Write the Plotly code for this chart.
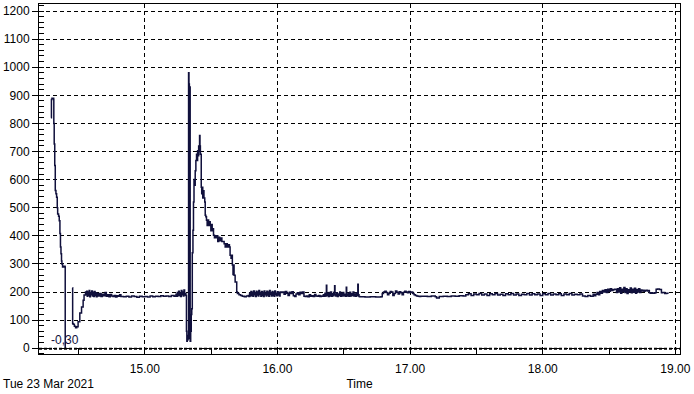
import plotly.graph_objects as go

# ---- data: (time in decimal hours, value) ----
ramp = [(14.292, 820), (14.296, 885), (14.300, 890), (14.313, 885), (14.314, 800), (14.317, 727),
        (14.321, 650), (14.325, 561), (14.330, 550), (14.335, 537), (14.340, 500), (14.343, 478),
        (14.350, 470), (14.355, 454), (14.360, 408), (14.364, 360), (14.368, 336), (14.372, 310),
        (14.375, 300), (14.380, 289), (14.390, 292), (14.399, 289), (14.400, -0.3)]
recovery = [(14.455, 215), (14.456, 88), (14.460, 85), (14.469, 78), (14.478, 73), (14.487, 76),
            (14.497, 94), (14.510, 125), (14.523, 147), (14.535, 171), (14.542, 189), (14.553, 200)]
noise_a = [(14.558, 190), (14.562, 203), (14.566, 185), (14.570, 200), (14.575, 188), (14.580, 205),
           (14.585, 183), (14.590, 198), (14.595, 190), (14.600, 204), (14.605, 186), (14.610, 199),
           (14.615, 184), (14.620, 202), (14.625, 188), (14.630, 197), (14.635, 183), (14.640, 195),
           (14.650, 186), (14.660, 195), (14.670, 184), (14.680, 192), (14.690, 187), (14.700, 198),
           (14.710, 185), (14.720, 190), (14.730, 183), (14.740, 191), (14.750, 186), (14.760, 184),
           (14.770, 188), (14.780, 182), (14.790, 187), (14.800, 185), (14.810, 190), (14.820, 184)]
flat_a = [(14.84, 183), (14.86, 185), (14.88, 182), (14.90, 186), (14.92, 184), (14.94, 181),
          (14.96, 185), (14.98, 183), (15.00, 184), (15.02, 182), (15.04, 186), (15.06, 183),
          (15.08, 185), (15.10, 184), (15.12, 187), (15.14, 185), (15.16, 186), (15.18, 184),
          (15.20, 188), (15.22, 185)]
pre_peak = [(15.230, 186), (15.235, 192), (15.240, 185), (15.245, 198), (15.250, 187), (15.255, 203),
            (15.260, 188), (15.265, 196), (15.270, 184), (15.275, 205), (15.280, 190), (15.285, 200),
            (15.290, 186), (15.295, 207), (15.300, 189), (15.305, 195), (15.310, 188)]
peak = [(15.314, 60), (15.317, 25), (15.320, 45), (15.323, 30), (15.326, 40), (15.330, 980),
        (15.333, 940), (15.336, 35), (15.339, 930), (15.342, 25), (15.346, 60), (15.350, 120),
        (15.354, 140), (15.358, 340), (15.363, 420), (15.367, 520), (15.371, 600), (15.375, 580),
        (15.380, 632), (15.385, 668), (15.390, 690), (15.394, 668), (15.398, 703), (15.402, 685),
        (15.406, 720), (15.410, 700), (15.413, 757), (15.416, 720), (15.419, 690), (15.4255, 573),
        (15.429, 550), (15.433, 573), (15.437, 535), (15.441, 560), (15.446, 535), (15.452, 520),
        (15.4555, 473), (15.460, 468), (15.465, 455), (15.470, 437), (15.475, 456), (15.481, 437),
        (15.487, 450), (15.493, 440), (15.498, 418), (15.503, 440), (15.508, 418), (15.513, 425),
        (15.518, 402), (15.525, 393), (15.531, 400), (15.537, 393), (15.543, 400), (15.550, 380),
        (15.557, 395), (15.564, 382), (15.572, 392), (15.581, 380), (15.590, 380), (15.598, 372),
        (15.606, 360), (15.614, 372), (15.622, 360), (15.630, 368), (15.638, 360), (15.643, 331),
        (15.650, 320), (15.656, 331), (15.660, 296), (15.665, 262), (15.669, 296), (15.673, 260),
        (15.681, 236), (15.693, 200), (15.698, 195), (15.710, 190), (15.722, 188), (15.735, 185),
        (15.750, 183), (15.765, 186), (15.780, 188)]
noise_b = [(15.785, 184), (15.790, 196), (15.795, 186), (15.800, 202), (15.805, 188), (15.810, 199),
           (15.815, 185), (15.820, 204), (15.825, 190), (15.830, 197), (15.835, 184), (15.840, 203),
           (15.845, 189), (15.850, 200), (15.855, 186), (15.860, 205), (15.865, 191), (15.870, 198),
           (15.875, 185), (15.880, 202), (15.885, 188), (15.890, 199), (15.895, 184), (15.900, 204),
           (15.905, 190), (15.910, 196), (15.915, 186), (15.920, 203), (15.925, 189), (15.930, 200),
           (15.935, 185), (15.940, 205), (15.945, 191), (15.950, 197), (15.955, 186), (15.960, 202),
           (15.965, 188), (15.970, 199), (15.975, 185), (15.980, 204), (15.985, 190), (15.990, 196),
           (15.995, 187), (16.000, 201), (16.005, 189), (16.010, 198), (16.015, 186), (16.020, 200),
           (16.03, 198), (16.04, 200), (16.05, 192), (16.06, 202), (16.07, 196), (16.08, 188),
           (16.09, 199), (16.10, 195), (16.11, 201), (16.12, 187), (16.13, 184), (16.14, 193),
           (16.15, 197), (16.16, 190), (16.17, 199), (16.18, 195), (16.19, 200)]
flat_b = [(16.20, 185), (16.21, 184), (16.22, 186), (16.23, 183), (16.24, 190), (16.25, 185),
          (16.26, 187), (16.27, 184), (16.28, 191), (16.29, 186), (16.30, 185), (16.31, 188),
          (16.32, 184), (16.33, 186), (16.34, 185)]
spikes = [(16.346, 190), (16.352, 185), (16.358, 196), (16.364, 186), (16.369, 224), (16.372, 188),
          (16.378, 195), (16.384, 184), (16.390, 198), (16.396, 186), (16.402, 200), (16.408, 185),
          (16.414, 194), (16.420, 187), (16.426, 199), (16.431, 222), (16.434, 190), (16.440, 186),
          (16.446, 197), (16.452, 184), (16.458, 193), (16.464, 188), (16.470, 200), (16.476, 185),
          (16.482, 195), (16.488, 186), (16.494, 198), (16.500, 187), (16.506, 192), (16.512, 185),
          (16.519, 217), (16.522, 190), (16.528, 186), (16.534, 196), (16.540, 185), (16.546, 199),
          (16.552, 186), (16.558, 194), (16.564, 188), (16.570, 200), (16.576, 186), (16.582, 193),
          (16.588, 185), (16.594, 197), (16.600, 187), (16.606, 228), (16.609, 190), (16.615, 184)]
mid = [(16.62, 183), (16.66, 182), (16.70, 183), (16.74, 182), (16.78, 183),
       (16.79, 195), (16.80, 200), (16.81, 203), (16.82, 198), (16.83, 190), (16.84, 196),
       (16.85, 202), (16.86, 200), (16.87, 188), (16.88, 195), (16.89, 204), (16.90, 199),
       (16.91, 193), (16.92, 201), (16.93, 197), (16.94, 190), (16.95, 199), (16.96, 203),
       (16.97, 200), (16.98, 197), (16.99, 202), (17.00, 198), (17.01, 200), (17.02, 195),
       (17.03, 190), (17.04, 188), (17.05, 186), (17.06, 185), (17.07, 184), (17.08, 185),
       (17.10, 185), (17.13, 184), (17.16, 186), (17.19, 183), (17.20, 179), (17.22, 184),
       (17.25, 185), (17.28, 184), (17.31, 186), (17.34, 185), (17.37, 187), (17.40, 186)]
late = [(17.42, 190), (17.44, 194), (17.46, 188), (17.48, 193), (17.50, 190), (17.52, 195),
        (17.54, 189), (17.56, 193), (17.58, 188), (17.60, 194), (17.62, 190), (17.64, 195),
        (17.66, 189), (17.68, 192), (17.70, 188), (17.72, 194), (17.74, 190), (17.76, 195),
        (17.78, 189), (17.80, 193), (17.82, 188), (17.84, 192), (17.86, 190), (17.88, 195),
        (17.90, 189), (17.92, 194), (17.94, 190), (17.96, 193), (17.98, 188), (18.00, 194),
        (18.02, 190), (18.04, 195), (18.06, 189), (18.08, 193), (18.10, 190), (18.12, 194),
        (18.14, 188), (18.16, 193), (18.18, 190), (18.20, 195), (18.22, 189), (18.24, 192),
        (18.26, 190), (18.28, 193), (18.30, 186), (18.32, 184), (18.34, 188), (18.36, 185),
        (18.38, 192), (18.39, 187)]
end = [(18.40, 192), (18.41, 198), (18.42, 190), (18.43, 202), (18.44, 196), (18.45, 205),
       (18.46, 200), (18.47, 208), (18.48, 198), (18.49, 210), (18.50, 203), (18.51, 212),
       (18.52, 205), (18.53, 208), (18.54, 210), (18.556, 198), (18.564, 212), (18.572, 200),
       (18.580, 215), (18.588, 196), (18.596, 210), (18.604, 202), (18.612, 216), (18.620, 198),
       (18.628, 212), (18.636, 195), (18.644, 208), (18.652, 200), (18.660, 214), (18.668, 197),
       (18.676, 210), (18.684, 199), (18.692, 213), (18.700, 196), (18.708, 209), (18.716, 200),
       (18.724, 212), (18.732, 198), (18.740, 207), (18.748, 204), (18.756, 206), (18.764, 203),
       (18.772, 205), (18.780, 206), (18.788, 204), (18.796, 205), (18.804, 197), (18.812, 196),
       (18.820, 197), (18.830, 196), (18.845, 197), (18.855, 210), (18.865, 211), (18.880, 209),
       (18.895, 197), (18.905, 198), (18.920, 195), (18.935, 196), (18.945, 194)]

x_tickvals = [15, 16, 17, 18, 19]
x_ticktext = ["15.00", "16.00", "17.00", "18.00", "19.00"]
y_tickvals = [0, 100, 200, 300, 400, 500, 600, 700, 800, 900, 1000, 1100, 1200]
min_label = "-0,30"
date_label = "Tue 23 Mar 2021"

# Build series: gap between first ramp and recovery
segments = [ramp, None, recovery, noise_a, flat_a, pre_peak, peak, noise_b, flat_b,
            spikes, mid, late, end]
xs, ys = [], []
for seg in segments:
    if seg is None:
        xs.append(None); ys.append(None)
        continue
    for t, v in seg:
        xs.append(t); ys.append(v)

LINE = "#10103c"
fig = go.Figure()
fig.add_trace(go.Scatter(x=xs, y=ys, mode="lines", connectgaps=False,
                         line=dict(color=LINE, width=1.5, shape="hv"), hoverinfo="skip"))

fig.add_shape(type="line", xref="paper", x0=0, x1=1, yref="y", y0=-1.5, y1=-1.5,
              line=dict(color="black", width=2, dash="3px,2px"), layer="above")

fig.add_annotation(x=ramp[-1][0], y=ramp[-1][1], xref="x", yref="y", text=min_label,
                   showarrow=False, xanchor="center", yanchor="bottom", yshift=-1,
                   font=dict(size=12, color="#10103c"))
fig.add_annotation(x=0, y=-0.085, xref="paper", yref="paper", text=date_label,
                   showarrow=False, xanchor="left", yanchor="middle", xshift=-38,
                   font=dict(size=12, color="black"))

fig.update_layout(
    width=694, height=394,
    margin=dict(l=38, r=12, t=3, b=40),
    paper_bgcolor="white", plot_bgcolor="white",
    font=dict(family="Liberation Sans, Arial, sans-serif", size=12, color="black"),
    showlegend=False,
    xaxis=dict(range=[14.2023, 19.035], tickvals=x_tickvals, ticktext=x_ticktext,
               showline=True, linecolor="black", linewidth=1, mirror=True,
               ticks="inside", ticklen=6, tickcolor="black",
               showgrid=True, gridcolor="black", gridwidth=1, griddash="4px,3px",
               zeroline=False, ticklabelstandoff=4,
               minor=dict(dtick=0.5, tick0=0, ticks="inside", ticklen=6, tickcolor="black",
                          showgrid=False),
               title=dict(text="Time", standoff=4, font=dict(size=12))),
    yaxis=dict(range=[-20.6, 1225], tickvals=y_tickvals,
               showline=True, linecolor="black", linewidth=1, mirror=True,
               ticks="outside", ticklen=6, tickcolor="black",
               showgrid=True, gridcolor="black", gridwidth=1, griddash="4px,3px",
               zeroline=False,
               minor=dict(dtick=20, tick0=0, ticks="inside", ticklen=5, tickcolor="black",
                          showgrid=False)),
)
fig.write_html("out.html")
